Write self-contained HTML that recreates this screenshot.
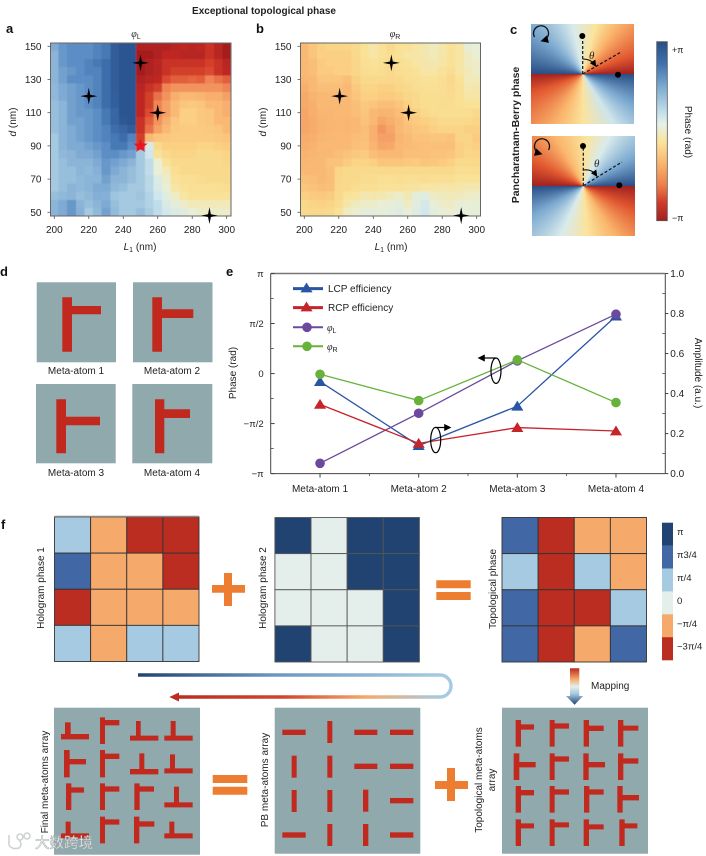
<!DOCTYPE html>
<html lang="en">
<head>
<meta charset="utf-8">
<title>Exceptional topological phase</title>
<style>
html,body{margin:0;padding:0;background:#fff;width:706px;height:856px;overflow:hidden}
svg{display:block}
text{font-family:"Liberation Sans","Noto Sans CJK SC",sans-serif;fill:#222;font-size:10px}
.pl{font-size:13px;font-weight:bold;fill:#111}
.it{font-style:italic}
.sym{font-family:"Liberation Serif",serif;font-style:italic}
.rd{fill:#c1291f}
</style>
</head>
<body>
<svg id="fig" xmlns="http://www.w3.org/2000/svg" width="706" height="856" viewBox="0 0 706 856">
<defs>
  <clipPath id="clipA"><rect x="50.5" y="43" width="180.5" height="173"/></clipPath>
  <clipPath id="clipB"><rect x="300.5" y="43" width="180" height="173"/></clipPath>
  <filter id="soft" x="-5%" y="-5%" width="110%" height="110%"><feGaussianBlur stdDeviation=".5"/></filter>
  <linearGradient id="cbarGrad" x1="0" y1="0" x2="0" y2="1">
    <stop offset="0" stop-color="#2a4e86"/><stop offset=".12" stop-color="#3f70ab"/><stop offset=".25" stop-color="#7ba9d0"/>
    <stop offset=".38" stop-color="#bcdae8"/><stop offset=".46" stop-color="#e6f1ea"/><stop offset=".56" stop-color="#fbe39c"/>
    <stop offset=".68" stop-color="#fab56c"/><stop offset=".8" stop-color="#ee7f4a"/><stop offset=".9" stop-color="#d03a29"/><stop offset="1" stop-color="#a02220"/>
  </linearGradient>
  <linearGradient id="loopTop" gradientUnits="userSpaceOnUse" x1="138" y1="0" x2="440" y2="0">
    <stop offset="0" stop-color="#214372"/><stop offset=".45" stop-color="#6d96bf"/><stop offset="1" stop-color="#a6cae1"/>
  </linearGradient>
  <linearGradient id="loopBot" gradientUnits="userSpaceOnUse" x1="178" y1="0" x2="440" y2="0">
    <stop offset="0" stop-color="#bb2c21"/><stop offset=".4" stop-color="#d2452c"/><stop offset=".72" stop-color="#f5a96b"/><stop offset="1" stop-color="#a6cae1"/>
  </linearGradient>
  <linearGradient id="mapGrad" x1="0" y1="0" x2="0" y2="1">
    <stop offset="0" stop-color="#bb2c21"/><stop offset=".3" stop-color="#f5a96b"/><stop offset=".5" stop-color="#e4efec"/><stop offset=".7" stop-color="#a6cae1"/><stop offset="1" stop-color="#214372"/>
  </linearGradient>
  <marker id="ah" markerWidth="6" markerHeight="6" refX="4" refY="3" orient="auto"><path d="M0 0L6 3L0 6Z" fill="#000"/></marker>
</defs>

<text x="264" y="14" text-anchor="middle" style="font-weight:bold;font-size:10px">Exceptional topological phase</text>
<text class="pl" x="6" y="33">a</text>
<text class="pl" x="256" y="33">b</text>
<text class="pl" x="510" y="34">c</text>
<text class="pl" x="0" y="276">d</text>
<text class="pl" x="226" y="276">e</text>
<text class="pl" x="1" y="529">f</text>

<!-- panel a -->
<g clip-path="url(#clipA)"><g id="heatA" filter="url(#soft)" shape-rendering="crispEdges"></g></g>
<rect x="50.5" y="43" width="180.5" height="173" fill="none" stroke="#666" stroke-width="1"/>
<g id="axesA"></g>
<g id="starsA"></g>
<text x="136" y="37" text-anchor="middle"><tspan class="sym">φ</tspan><tspan dy="2" font-size="7">L</tspan></text>
<text x="140" y="250" text-anchor="middle"><tspan class="it">L</tspan><tspan dy="2" font-size="7">1</tspan><tspan dy="-2"> (nm)</tspan></text>
<text transform="translate(16,122) rotate(-90)" text-anchor="middle"><tspan class="it">d</tspan> (nm)</text>

<!-- panel b -->
<g clip-path="url(#clipB)"><g id="heatB" filter="url(#soft)" shape-rendering="crispEdges"></g></g>
<rect x="300.5" y="43" width="180" height="173" fill="none" stroke="#666" stroke-width="1"/>
<g id="axesB"></g>
<g id="starsB"></g>
<text x="395" y="37" text-anchor="middle"><tspan class="sym">φ</tspan><tspan dy="2" font-size="7">R</tspan></text>
<text x="391" y="250" text-anchor="middle"><tspan class="it">L</tspan><tspan dy="2" font-size="7">1</tspan><tspan dy="-2"> (nm)</tspan></text>
<text transform="translate(266,122) rotate(-90)" text-anchor="middle"><tspan class="it">d</tspan> (nm)</text>

<!-- panel c -->
<text transform="translate(519,135) rotate(-90)" text-anchor="middle" style="font-weight:bold;font-size:10.5px">Pancharatnam-Berry phase</text>
<foreignObject x="531" y="24" width="102.5" height="100">
  <div xmlns="http://www.w3.org/1999/xhtml" style="width:100%;height:100%;background:conic-gradient(from 90deg at 50.5% 50%,#2a4e86 0deg,#7ba9d0 32deg,#cfe5ea 58deg,#fbe39c 90deg,#fab56c 118deg,#e0552f 160deg,#a02220 180deg,#2a4e86 180deg,#7ba9d0 222deg,#d9ebec 258deg,#fbe39c 285deg,#fab56c 305deg,#e0552f 340deg,#a02220 360deg)"></div>
</foreignObject>
<foreignObject x="532" y="136" width="103" height="100">
  <div xmlns="http://www.w3.org/1999/xhtml" style="width:100%;height:100%;background:conic-gradient(from 90deg at 50%,#a02220 0deg,#e0552f 25deg,#fab56c 58deg,#fbe39c 85deg,#d9ebec 115deg,#7ba9d0 150deg,#2a4e86 180deg,#a02220 180deg,#e0552f 205deg,#fab56c 240deg,#fbe39c 272deg,#d9ebec 298deg,#7ba9d0 330deg,#2a4e86 360deg)"></div>
</foreignObject>
<g stroke="#111" fill="none">
  <path d="M582.7 74V36M582.7 74L621.7 51.7" stroke-width="1.2" stroke-dasharray="3 2"/>
  <path d="M582.7 59Q591 59 595 65" stroke-width="1.1" marker-end="url(#ah)"/>
  <circle cx="582.3" cy="36" r="3" fill="#000" stroke="none"/>
  <circle cx="618" cy="74.7" r="3" fill="#000" stroke="none"/>
  <path d="M534.5 37A7.5 7.5 0 1 1 543 40.5" stroke-width="1.3" marker-end="url(#ah)"/>
</g>
<text class="sym" x="589" y="59" style="font-size:11px">θ</text>
<g stroke="#111" fill="none">
  <path d="M583.3 185.7V146M583.3 185.7L622 162" stroke-width="1.2" stroke-dasharray="3 2"/>
  <path d="M583.3 170Q592 169 596 175" stroke-width="1.1" marker-end="url(#ah)"/>
  <circle cx="583" cy="146" r="3" fill="#000" stroke="none"/>
  <circle cx="619.3" cy="185.3" r="3" fill="#000" stroke="none"/>
  <path d="M548.5 150A7.5 7.5 0 1 0 540 153.5" stroke-width="1.3" marker-end="url(#ah)"/>
</g>
<text class="sym" x="594" y="167" style="font-size:11px">θ</text>
<rect x="656.7" y="41.7" width="10.6" height="179" fill="url(#cbarGrad)" stroke="#555" stroke-width=".8"/>
<text x="672" y="53" style="font-size:9px">+π</text>
<text x="672" y="221" style="font-size:9px">−π</text>
<text transform="translate(685,132) rotate(90)" text-anchor="middle">Phase (rad)</text>

<!-- panel d -->
<g>
  <rect x="36.7" y="282.3" width="79.3" height="80" fill="#8fa9ad"/>
  <path class="rd" d="M62.3 297.3H72V306H101V314.3H72V351.7H62.3Z"/>
</g>
<g>
  <rect x="133" y="282.3" width="79.5" height="80" fill="#8fa9ad"/>
  <path class="rd" d="M152.3 297.3H162V309.3H193.3V318H162V351.7H152.3Z"/>
</g>
<g>
  <rect x="36" y="384" width="79.7" height="79.3" fill="#8fa9ad"/>
  <path class="rd" d="M56.3 399.3H66V416.7H100V425.3H66V453.3H56.3Z"/>
</g>
<g>
  <rect x="132.3" y="384" width="80" height="79.3" fill="#8fa9ad"/>
  <path class="rd" d="M155 399.3H164.3V409.3H190V418H164.3V453.3H155Z"/>
</g>
<text x="76" y="374" text-anchor="middle">Meta-atom 1</text>
<text x="172" y="374" text-anchor="middle">Meta-atom 2</text>
<text x="76" y="476" text-anchor="middle">Meta-atom 3</text>
<text x="172" y="476" text-anchor="middle">Meta-atom 4</text>

<!-- panel e -->
<g id="chartE"></g>
<text transform="translate(236,373) rotate(-90)" text-anchor="middle">Phase (rad)</text>
<text transform="translate(695,373) rotate(90)" text-anchor="middle">Amplitude (a.u.)</text>
<g fill="none" stroke="#000" stroke-width="1.2">
  <ellipse cx="496" cy="370.7" rx="5" ry="12.7"/>
  <path d="M496 358H480" marker-end="url(#ah)"/>
</g>
<g fill="none" stroke="#000" stroke-width="1.2">
  <ellipse cx="435.7" cy="440" rx="5" ry="12.7"/>
  <path d="M435 427.5H449" marker-end="url(#ah)"/>
</g>

<!-- panel f -->
<g id="grid1"></g>
<line x1="54.5" x2="199" y1="516.5" y2="516.5" stroke="#888" stroke-width="1.6"/>
<g id="grid2"></g>
<g id="grid3"></g>
<g id="gridLegend"></g>
<text transform="translate(44,588) rotate(-90)" text-anchor="middle">Hologram phase 1</text>
<text transform="translate(266,588) rotate(-90)" text-anchor="middle">Hologram phase 2</text>
<text transform="translate(496,589) rotate(-90)" text-anchor="middle">Topological phase</text>

<path fill="#ed7d31" d="M224 573H232V585H245V592.7H232V606H224V592.7H212V585H224Z"/>
<path fill="#ed7d31" d="M436.3 580.3H470.7V588.3H436.3ZM436.3 592H470.7V600H436.3Z"/>
<path fill="#ed7d31" d="M447 768H455V781H468V789H455V801H447V789H435V781H447Z"/>
<path fill="#ed7d31" d="M212.7 775H247.3V783H212.7ZM212.7 786.7H247.3V794.7H212.7Z"/>

<g fill="none" stroke-width="3.4">
  <path d="M138 675H440A11 11 0 0 1 451 686" stroke="url(#loopTop)"/>
  <path d="M178 697H440A11 11 0 0 0 451 686" stroke="url(#loopBot)"/>
  <path d="M169.3 697L179 692.5V701.5Z" fill="#bb2c21" stroke="none"/>
</g>
<path d="M570 668.3H579.3V696H583L574.6 704.7L566 696H570Z" fill="url(#mapGrad)"/>
<text x="591" y="689">Mapping</text>

<!-- bottom arrays -->
<rect x="54" y="707.7" width="146" height="147" fill="#8fa9ad"/>
<rect x="274.7" y="707.7" width="145.6" height="146" fill="#8fa9ad"/>
<rect x="502" y="707.7" width="146" height="146" fill="#8fa9ad"/>

<g transform="translate(0,660) scale(.33333)" fill="#c1291f">
  <path d="M195 187H212V222H267V238H183V222H195Z"/>
  <path d="M300 172H315V180H358V196H315V252H300Z"/>
  <path d="M408 183H422V227H475V242H390V227H408Z"/>
  <path d="M512 183H527V227H578V242H493V227H512Z"/>
  <path d="M192 270H209V297H258V313H209V352H192Z"/>
  <path d="M300 270H315V281H358V297H315V352H300Z"/>
  <path d="M418 280H433V327H475V343H390V327H418Z"/>
  <path d="M510 283H525V325H578V340H493V325H510Z"/>
  <path d="M198 370H214V382H252V398H214V450H198Z"/>
  <path d="M300 370H315V379H358V395H315V450H300Z"/>
  <path d="M403 370H419V379H462V395H419V450H403Z"/>
  <path d="M522 380H537V427H578V442H493V427H522Z"/>
  <path d="M197 485H212V520H267V535H183V520H197Z"/>
  <path d="M300 470H315V478H358V494H315V550H300Z"/>
  <path d="M402 470H418V484H463V500H418V550H402Z"/>
  <path d="M508 485H523V520H578V535H493V520H508Z"/>
</g>
<g transform="translate(0,660) scale(.33333)" fill="#c1291f">
  <rect x="847" y="209" width="70" height="16"/>
  <rect x="982" y="183" width="15" height="66"/>
  <rect x="875" y="287" width="15" height="66"/>
  <rect x="982" y="287" width="15" height="66"/>
  <rect x="875" y="390" width="15" height="66"/>
  <rect x="982" y="390" width="15" height="66"/>
  <rect x="847" y="517" width="70" height="16"/>
  <rect x="982" y="492" width="15" height="66"/>
</g>
<g transform="translate(350,690) scale(.33333)" fill="#c1291f">
  <rect x="13" y="119" width="69" height="16"/>
  <rect x="120" y="119" width="70" height="16"/>
  <rect x="13" y="221" width="69" height="16"/>
  <rect x="120" y="221" width="70" height="16"/>
  <rect x="39" y="299" width="16" height="66"/>
  <rect x="120" y="324" width="70" height="16"/>
  <rect x="39" y="402" width="16" height="66"/>
  <rect x="120" y="427" width="70" height="16"/>
</g>
<g transform="translate(350,690) scale(.33333)" fill="#c1291f">
  <path d="M497 90H513V103H552V119H513V170H497Z"/>
  <path d="M599 90H614V100H657V116H614V170H599Z"/>
  <path d="M701 90H717V107H761V123H717V170H701Z"/>
  <path d="M804 90H820V107H865V122H820V170H804Z"/>
  <path d="M491 190H508V216H557V232H508V270H491Z"/>
  <path d="M599 190H614V199H657V215H614V270H599Z"/>
  <path d="M700 190H716V216H765V232H716V270H700Z"/>
  <path d="M804 190H820V205H865V221H820V270H804Z"/>
  <path d="M497 288H513V300H552V316H513V368H497Z"/>
  <path d="M599 288H614V298H657V314H614V368H599Z"/>
  <path d="M702 288H718V298H761V314H718V368H702Z"/>
  <path d="M802 288H818V315H867V331H818V368H802Z"/>
  <path d="M497 388H513V400H552V415H513V468H497Z"/>
  <path d="M599 388H614V397H657V412H614V468H599Z"/>
  <path d="M701 388H717V403H761V418H717V468H701Z"/>
  <path d="M808 388H824V400H862V415H824V468H808Z"/>
</g>
<text transform="translate(48,782) rotate(-90)" text-anchor="middle">Final meta-atoms array</text>
<text transform="translate(268,780) rotate(-90)" text-anchor="middle">PB meta-atoms array</text>
<text transform="translate(482,780) rotate(-90)" text-anchor="middle">Topological meta-atoms</text>
<text transform="translate(495,780) rotate(-90)" text-anchor="middle">array</text>

<!-- watermark -->
<g fill="none" stroke="#fff" stroke-width="1.6" opacity=".9">
  <path d="M9 835V845Q12 850 19 848Q23 845 19 840" stroke="#c9cfd0"/>
  <circle cx="20" cy="837" r="3" stroke="#c9cfd0"/>
  <circle cx="27" cy="836" r="3" stroke="#c9cfd0"/>
</g>
<text x="35" y="848" style="font-family:'Liberation Sans','Noto Sans CJK SC',sans-serif;font-size:14.5px;fill:#fff;stroke:#9fa8aa;stroke-width:.5">大数跨境</text>
</svg>

<script>
/* ---------- panel a/b data: phase / (pi/10), rows d = 150 … 50, columns L1 = 200 … 300 ---------- */
var widths = [200,205,210,215,220,225,230,235,240,245,250,255,260,265,270,275,280,285,290,295,300];
var thicknesses = [150,145,140,135,130,125,120,115,110,105,100,95,90,85,80,75,70,65,60,55,50];
var xTicks = [200,220,240,260,280,300];
var yTicks = [50,70,90,110,130,150];
var phiL = [
[4.5,5.5,6,6,6,6.5,7,8.5,9,9,-9,-9,-9,-8.8,-8.5,-8,-8.5,-8,-7.5,-8.5,-9.5],
[4,5.5,6,6,6,6.5,7,8.5,9,9,-9.5,-9.5,-9,-8,-8,-8.5,-8.5,-8.5,-7.5,-8.5,-9.5],
[4,5.5,6,6,6.5,7,7.5,8.5,9,9,-9.5,-9,-8.5,-7.5,-7.5,-7.5,-7.5,-7.5,-7,-7.5,-8.5],
[4,5,5.5,6,6.5,6.5,7.5,8.5,9,9,-9.5,-9,-8.5,-7.5,-7,-7,-7,-7,-6.5,-7.5,-8],
[4,5,6,6,6,6.5,7.5,8.5,9,9,-9,-8.5,-8,-6.5,-6,-6,-5.8,-6,-5,-5.5,-6],
[3.8,4.5,5,5.5,6,6.5,7.5,8.5,9,9,-8.5,-7.5,-7,-5,-4.5,-4.5,-4.5,-4.5,-4.5,-4.5,-5],
[3.8,4.5,5,5.5,6,6.5,7.5,8.3,9,9,-8,-7,-5.5,-4.5,-3.5,-3,-3,-3.2,-3.5,-3.5,-4],
[3.5,4,5,5.5,6,6.5,7.5,8.3,9,9,-8,-7,-5,-4,-3,-2.5,-2.3,-2.5,-3,-3,-3.5],
[3.5,4,5,5.5,5.5,6,7,8,9,9,-8,-6.5,-5,-4,-3,-2,-2,-2.3,-2.5,-3,-3.5],
[3.5,4,5,5,5.5,6,7,8,8.8,9,-7.5,-6,-4.5,-3.5,-2.5,-2,-2,-2.3,-2.5,-3,-3],
[3.5,4,4.5,5,5.5,6,6.5,7.5,8,8.5,-7.5,-5.5,-4,-3,-2.3,-2.2,-2.2,-2.2,-2.3,-2.5,-3],
[3,4,4.5,5,5.5,6,6.5,7,7.5,6.5,-7,-3,-2.5,-2.3,-2.2,-2.2,-2.2,-2.2,-2.2,-2.3,-2.5],
[3,4,4.5,4.5,5,5.5,6,7,7,6,-7,1,-1.5,-2,-2,-2,-2,-1.8,-1.8,-2,-2.2],
[3,3.8,4,4.5,4.5,5,6,6,5.5,5,3,1.5,-1,-1.5,-1.8,-1.8,-1.8,-1.5,-1.5,-1.6,-1.8],
[3,3.5,4,4,4,4.5,5.5,5,4.5,4,3,2,0,-1,-1.5,-1.5,-1.5,-1.5,-1.5,-1.5,-1.7],
[3,3.5,3.5,4,3.8,4.2,5.5,4.5,4,3.5,3,2,0,-0.5,-1.2,-1.5,-1.5,-1.5,-1.5,-1.5,-1.5],
[3,3.5,3.5,3.8,4,4,5,4,4,3.5,3,2.2,0.8,-0.2,-1,-1.2,-1.2,-1.4,-1.5,-1.5,-1.5],
[3,3.5,4,3.8,4,4.5,4.5,3.8,3.5,3,3,2.2,1,0,-0.8,-1,-1.2,-1.2,-1.2,-1.2,-1.3],
[3.5,3.8,4,3.5,3.8,4.3,4.2,3.2,3,3,3.2,2.5,1.5,0.5,-0.3,-0.8,-1,-1,-1,-1,-1],
[4,4.5,5.5,4,3.5,4,4.5,3.5,3,3,3,2.5,2,1,0.3,-0.2,-0.5,-0.5,-0.5,-0.5,-0.5],
[4,4.5,5.5,4.2,3,3.8,5,3.7,3,3,3.5,2.8,2,1.3,0.8,0.5,0,-0.2,-0.2,-0.2,-0.2]
];
var phiR = [
[-3,-2.5,-2,-1.8,-1.8,-1.8,-1.5,-1,-0.7,-1,-1.5,-1,-1,-0.8,-0.6,-0.4,-0.7,-1,-0.8,0.3,0],
[-3,-2.5,-2,-2,-2,-2,-1.5,-1,-0.8,-1,-1.3,-1,-0.8,-0.8,-0.6,-0.5,-0.7,-1,-0.8,-0.3,0],
[-3,-2.8,-2.2,-2,-2,-2,-1.7,-1.2,-1,-1.2,-1.5,-1.2,-1,-0.8,-0.7,-0.6,-0.8,-1,-0.8,-0.3,-0.2],
[-3,-2.8,-2.2,-2.2,-2,-2,-1.7,-1.3,-1.2,-1.3,-1.5,-1.3,-1.2,-1,-0.8,-0.8,-1,-1.3,-0.8,-0.5,-0.2],
[-3.2,-3,-2.5,-2.5,-2.5,-2.8,-2,-1.5,-1.5,-1.5,-1.6,-1.5,-1.3,-1.2,-1,-1,-1.2,-1.6,-1,-0.5,-0.5],
[-3.5,-3,-2.8,-2.8,-2.8,-3,-2.3,-1.8,-1.8,-2,-2,-1.7,-1.5,-1.3,-1.2,-1.2,-1.3,-1.5,-1.2,-0.6,-0.7],
[-3.7,-3.3,-3,-3,-3,-3,-2.5,-2,-2,-2.2,-2.2,-2,-1.7,-1.5,-1.3,-1.3,-1.3,-1.4,-1.2,-0.8,-0.8],
[-3.7,-3.5,-3,-3,-3,-3,-2.8,-2.3,-2.5,-2.8,-2.8,-2.5,-2,-1.5,-1.3,-1.3,-1.4,-1.3,-1.2,-1,-1],
[-3.8,-3.5,-3.2,-3.2,-3,-3,-2.8,-2.5,-3,-3.3,-3.2,-2.8,-2.3,-2,-1.5,-1.3,-1.3,-1.3,-1.3,-1.3,-1.5],
[-3.8,-3.6,-3.3,-3.2,-3.1,-3.2,-3,-2.6,-3,-3.8,-3.5,-3,-2.5,-2.2,-2,-1.8,-1.5,-1.5,-1.5,-1.5,-1.8],
[-3.8,-3.6,-3.3,-3.2,-3.1,-3.2,-3,-2.8,-3.4,-4.4,-3.8,-3,-2.7,-2.5,-2.3,-2,-1.8,-1.8,-1.8,-2,-2],
[-3.6,-3.5,-3.2,-3.1,-3,-3,-2.8,-2.7,-3.4,-4,-4,-3.2,-2.9,-2.6,-2.6,-2.5,-2.5,-2.6,-1.8,-1.8,-2.2],
[-3.5,-3.3,-3,-3,-3,-3,-2.7,-2.6,-3.2,-3.8,-3.7,-3,-2.9,-2.8,-2.7,-2.7,-2.7,-2.7,-2,-1.8,-2],
[-3.3,-3.2,-3,-3,-2.8,-2.6,-2.3,-2.2,-2.8,-3,-3,-3,-2.7,-2.7,-2.7,-2.6,-2.6,-2.5,-2,-1.7,-1.8],
[-3.2,-3,-3,-2.6,-2.6,-2.2,-1.8,-1.8,-2,-2.5,-2.5,-2.5,-2.3,-2.2,-2.5,-2.4,-2.2,-2,-1.5,-1.5,-1.6],
[-3,-3,-3,-2.8,-1.8,-1.5,-1.5,-1.5,-1.5,-1.5,-1.5,-1.5,-1.5,-1.5,-1.5,-1.5,-1.5,-1.5,-1.3,-1.3,-1.4],
[-2.7,-2.8,-3,-2.8,-1.7,-1.5,-1.5,-1.4,-1.4,-1.2,-1.2,-1.3,-1.2,-1.2,-1.3,-1.2,-1.2,-1.2,-1,-1,-1],
[-2.5,-2.6,-2.8,-2.7,-1.6,-1.5,-1.3,-1.2,-1.2,-1,-1,-1,-0.9,-0.9,-0.8,-0.8,-0.7,-0.8,-0.7,-0.6,-0.6],
[-2,-2.2,-2.3,-2.2,-1.5,-1,-0.9,-0.6,-0.7,-0.6,-0.4,-0.2,-0.6,0.3,0.5,-0.3,-0.4,-0.5,-0.4,-0.3,-0.2],
[-1.6,-1.8,-1.9,-1.8,-1.4,-0.7,-0.4,-0.2,-0.2,0,0.2,0.4,-0.3,0.5,1.2,0.2,-0.2,-0.3,0.1,0,0.1],
[-1.5,-1.6,-1.6,-1.5,-1,-0.3,-0.1,0.3,0.3,0.1,0.4,0.6,0,0.6,1.4,0.4,0,-0.1,0.2,0.2,0.2]
];
var pointsAL = [220,250,260,290];
var pointsAD = [120,140,110,48];
var pointsBL = [220.5,250.5,260.5,291];
var pointsBD = [120,140,110,48];
var exceptionalL = 250;
var exceptionalD = 90;

/* ---------- panel e data ---------- */
var metaAtoms = ["Meta-atom 1","Meta-atom 2","Meta-atom 3","Meta-atom 4"];
var lcpEfficiency = [0.46,0.14,0.337,0.787];
var rcpEfficiency = [0.346,0.151,0.23,0.213];
var phiLPhase = [-0.897,-0.397,0.127,0.593];   /* units of pi */
var phiRPhase = [-0.007,-0.27,0.137,-0.29];    /* units of pi */
var phaseTickValues = [1,0.5,0,-0.5,-1];
var phaseTickLabels = ["π","π/2","0","−π/2","−π"];
var ampTickValues = [0,0.2,0.4,0.6,0.8,1];
var ampTickLabels = ["0.0","0.2","0.4","0.6","0.8","1.0"];

/* ---------- panel f data: phase in units of pi ---------- */
var hologram1 = [[0.25,-0.25,-0.75,-0.75],[0.75,-0.25,-0.25,-0.75],[-0.75,-0.25,-0.25,-0.25],[0.25,-0.25,0.25,0.25]];
var hologram2 = [[1,0,1,1],[0,0,1,1],[0,0,0,1],[1,0,0,1]];
var topological = [[0.75,-0.75,-0.25,-0.25],[0.25,-0.75,0.25,-0.25],[0.75,-0.75,-0.75,0.25],[0.75,-0.75,-0.25,0.75]];
var legendValues = [1,0.75,0.25,0,-0.25,-0.75];
var legendLabels = ["π","π3/4","π/4","0","−π/4","−3π/4"];

var NS = "http://www.w3.org/2000/svg";
function mk(tag, parent, attrs, txt){
  var el = document.createElementNS(NS, tag);
  for (var k in attrs) el.setAttribute(k, attrs[k]);
  if (txt !== undefined) el.textContent = txt;
  parent.appendChild(el);
  return el;
}
function hex(c){return [parseInt(c.substr(1,2),16),parseInt(c.substr(3,2),16),parseInt(c.substr(5,2),16)];}
var stopsV = [-10,-8,-6.5,-5,-3.5,-2,-1.5,-1,0,1.5,3,4.5,6,7.5,9,10];
var stopsC = ["#9e1c1f","#bf2820","#dc4a30","#ef8555","#f8ae6e","#fbd083","#f9da8d","#f9e298","#e9efd6","#cfe6ee","#a4c9e0","#7eaad3","#5c8ec5","#3d6eab","#2a5590","#234a80"];
function heatColor(v){
  for (var i=0;i<stopsV.length-1;i++){
    if (v<=stopsV[i+1]){
      var t=(v-stopsV[i])/(stopsV[i+1]-stopsV[i]);
      var a=hex(stopsC[i]),b=hex(stopsC[i+1]);
      return "rgb("+Math.round(a[0]+(b[0]-a[0])*t)+","+Math.round(a[1]+(b[1]-a[1])*t)+","+Math.round(a[2]+(b[2]-a[2])*t)+")";
    }
  }
  return stopsC[stopsC.length-1];
}
function starPts(cx,cy,R,r,n){
  var s=[];
  for (var i=0;i<2*n;i++){
    var a=-Math.PI/2+i*Math.PI/n, q=i%2?r:R;
    s.push((cx+q*Math.cos(a)).toFixed(2)+","+(cy+q*Math.sin(a)).toFixed(2));
  }
  return s.join(" ");
}

function drawHeat(groupId, axesId, starsId, data, x0, frameLeft, ptsL, ptsD, tag){
  var xS = function(v){return x0+(v-200)*1.724;};
  var yS = function(v){return 212.3-(v-50)*1.66;};
  var g = document.getElementById(groupId);
  data.forEach(function(row,ri){
    row.forEach(function(val,ci){
      var cell = mk("rect", g, {x:xS(widths[ci]-2.5), y:yS(thicknesses[ri]+2.5), width:8.7, height:8.4, fill:heatColor(val)});
      
      
    });
  });
  var ax = document.getElementById(axesId);
  xTicks.forEach(function(t){
    var l = mk("line", ax, {x1:xS(t),x2:xS(t),y1:216,y2:219,stroke:"#555","stroke-width":0.8});
    
    
    var lb = mk("text", ax, {x:xS(t),y:233,"text-anchor":"middle"}, String(t));
    
    
  });
  yTicks.forEach(function(t){
    var l = mk("line", ax, {x1:frameLeft-3,x2:frameLeft,y1:yS(t),y2:yS(t),stroke:"#555","stroke-width":0.8});
    
    
    var lb = mk("text", ax, {x:frameLeft-9,y:yS(t)+3.5,"text-anchor":"end"}, String(t));
    
    
  });
  var sg = document.getElementById(starsId);
  ptsL.forEach(function(L,i){
    var st = mk("polygon", sg, {points:starPts(xS(L),yS(ptsD[i]),8.5,2,4),fill:"#000"});
    
    
  });
  return {x:xS,y:yS,stars:sg};
}
var panelA = drawHeat("heatA","axesA","starsA",phiL,54.3,50.5,pointsAL,pointsAD,"phi-l");
var panelB = drawHeat("heatB","axesB","starsB",phiR,304.3,300.5,pointsBL,pointsBD,"phi-r");
var redStar = mk("polygon", panelA.stars, {points:starPts(panelA.x(exceptionalL),panelA.y(exceptionalD),7.5,3,5),fill:"#ea1520"});



/* ---------- panel e ---------- */
(function(){
  var g = document.getElementById("chartE");
  var L=270.7,R=665.3,T=273.5,B=473.6;
  var band=(R-L)/metaAtoms.length;
  var xS=function(i){return L+band*(i+0.5);};
  var yAmp=function(v){return B-(B-T)*v;};
  var yPh=function(v){return (B+T)/2-(B-T)/2*v;};
  var fr;
  fr = mk("line", g, {x1:L,x2:L,y1:T,y2:B,stroke:"#444","stroke-width":1});
  
  
  fr = mk("line", g, {x1:R,x2:R,y1:T,y2:B,stroke:"#444","stroke-width":1});
  
  
  fr = mk("line", g, {x1:L,x2:R,y1:B,y2:B,stroke:"#444","stroke-width":1});
  
  
  fr = mk("line", g, {x1:L,x2:R,y1:T,y2:T,stroke:"#777","stroke-width":1.6});
  
  

  phaseTickValues.forEach(function(v,i){
    var t = mk("line", g, {x1:L,x2:L+4,y1:yPh(v),y2:yPh(v),stroke:"#444","stroke-width":1});
    
    
    var lb = mk("text", g, {x:L-7,y:yPh(v)+3.5,"text-anchor":"end",style:"font-size:9.5px"}, phaseTickLabels[i]);
    
    
    if (i<phaseTickValues.length-1){
      var mn = mk("line", g, {x1:L,x2:L+3,y1:yPh(v-0.25),y2:yPh(v-0.25),stroke:"#444","stroke-width":0.8});
      
      
    }
  });
  ampTickValues.forEach(function(v,i){
    var t = mk("line", g, {x1:R,x2:R+3,y1:yAmp(v),y2:yAmp(v),stroke:"#444","stroke-width":1});
    
    
    var lb = mk("text", g, {x:R+5,y:yAmp(v)+3.5}, ampTickLabels[i]);
    
    
    if (i<ampTickValues.length-1){
      var mn = mk("line", g, {x1:R-3,x2:R,y1:yAmp(v+0.1),y2:yAmp(v+0.1),stroke:"#444","stroke-width":0.8});
      
      
    }
  });
  metaAtoms.forEach(function(c,i){
    var t = mk("line", g, {x1:xS(i),x2:xS(i),y1:B,y2:B+4,stroke:"#444","stroke-width":1});
    
    
    var lb = mk("text", g, {x:xS(i),y:492,"text-anchor":"middle"}, c);
    
    
    if (i<metaAtoms.length-1){
      var mn = mk("line", g, {x1:xS(i+0.5),x2:xS(i+0.5),y1:B,y2:B+2.5,stroke:"#444","stroke-width":0.8});
      
      
    }
  });

  function tri(cx,cy,s){return (cx)+","+(cy-s)+" "+(cx+s*1.1)+","+(cy+s*0.8)+" "+(cx-s*1.1)+","+(cy+s*0.8);}
  function drawSeries(vals, yFn, color, kind, tag){
    var pts = vals.map(function(v,i){return xS(i).toFixed(2)+","+yFn(v).toFixed(2);}).join(" ");
    var pl = mk("polyline", g, {points:pts,fill:"none",stroke:color,"stroke-width":1.3});
    
    
    vals.forEach(function(v,i){
      var m;
      if (kind==="tri") m = mk("polygon", g, {points:tri(xS(i),yFn(v),5.5),fill:color});
      else m = mk("circle", g, {cx:xS(i),cy:yFn(v),r:4.8,fill:color});
      
      
    });
  }
  drawSeries(lcpEfficiency,yAmp,"#2a55a5","tri","lcp-efficiency");
  drawSeries(phiLPhase,yPh,"#6b4a9e","circ","phi-l");
  drawSeries(phiRPhase,yPh,"#68b23c","circ","phi-r");
  drawSeries(rcpEfficiency,yAmp,"#c5242b","tri","rcp-efficiency");

  /* legend */
  var lx1=293,lx2=323,lcx=306.5;
  var ln;
  ln = mk("line", g, {x1:lx1,x2:lx2,y1:288.6,y2:288.6,stroke:"#2a55a5","stroke-width":3});
  
  
  ln = mk("polygon", g, {points:tri(lcx,288,5.5),fill:"#2a55a5"});
  
  
  ln = mk("text", g, {x:328,y:292}, "LCP efficiency");
  
  
  ln = mk("line", g, {x1:lx1,x2:lx2,y1:307.6,y2:307.6,stroke:"#c5242b","stroke-width":3});
  
  
  ln = mk("polygon", g, {points:tri(lcx,307,5.5),fill:"#c5242b"});
  
  
  ln = mk("text", g, {x:328,y:311}, "RCP efficiency");
  
  
  ln = mk("line", g, {x1:lx1,x2:lx2,y1:327.3,y2:327.3,stroke:"#6b4a9e","stroke-width":2});
  
  
  ln = mk("circle", g, {cx:307,cy:327.3,r:4.8,fill:"#6b4a9e"});
  
  
  var t1 = mk("text", g, {x:327,y:331});
  
  
  mk("tspan", t1, {"class":"sym"}, "φ");
  mk("tspan", t1, {dy:2,"font-size":7}, "L");
  ln = mk("line", g, {x1:lx1,x2:lx2,y1:346.3,y2:346.3,stroke:"#68b23c","stroke-width":2});
  
  
  ln = mk("circle", g, {cx:307,cy:346.3,r:4.8,fill:"#68b23c"});
  
  
  var t2 = mk("text", g, {x:327,y:350});
  
  
  mk("tspan", t2, {"class":"sym"}, "φ");
  mk("tspan", t2, {dy:2,"font-size":7}, "R");
})();

/* ---------- panel f grids ---------- */
var discretePalette = ["#214372","#4168a5","#a6cae1","#e4efec","#f5a96b","#bb2c21"];
function discreteColor(v){ return discretePalette[legendValues.indexOf(v)]; }
function drawGrid(id, data, x0, y0, size, stroke, tag){
  var g = document.getElementById(id);
  var cell = size/data.length;
  var xS = function(c){return x0+c*cell;};
  var yS = function(r){return y0+r*cell;};
  data.forEach(function(row,r){
    row.forEach(function(v,c){
      var el = mk("rect", g, {x:xS(c),y:yS(r),width:cell,height:cell,fill:discreteColor(v),stroke:stroke,"stroke-width":0.9});
      
      
    });
  });
}
drawGrid("grid1",hologram1,54.5,517,144.5,"#333","hologram-1");
drawGrid("grid2",hologram2,274.9,517.5,144.5,"#555","hologram-2");
drawGrid("grid3",topological,502,517.5,144.5,"#333","topological");
(function(){
  var g = document.getElementById("gridLegend");
  var top=522.7, h=22.9;
  legendValues.forEach(function(v,i){
    var r = mk("rect", g, {x:662,y:top+i*h,width:11,height:h+0.2,fill:discreteColor(v)});
    
    
    var t = mk("text", g, {x:677,y:top+i*h+h/2+1,style:"font-size:9.5px"}, legendLabels[i]);
    
    
  });
})();
</script>
</body>
</html>
